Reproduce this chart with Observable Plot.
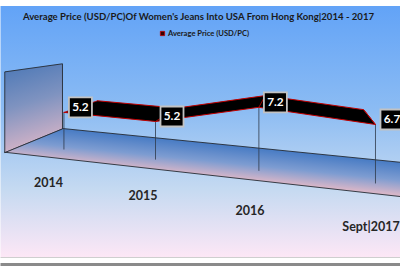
<!DOCTYPE html>
<html><head><meta charset="utf-8">
<script src="https://cdn.jsdelivr.net/npm/d3@7"></script>
<script src="https://cdn.jsdelivr.net/npm/@observablehq/plot@0.6"></script>
<style>html,body{margin:0;padding:0;background:#fff} svg{display:block}</style>
</head><body><div id="chart"></div>
<script>
// ---- data ----
const categories = ["2014", "2015", "2016", "Sept|2017"];
const values = [5.2, 5.2, 7.2, 6.7];
const valueLabels = ["5.2", "5.2", "7.2", "6.7"];
const seriesName = "Average Price (USD/PC)";
const chartTitle = "Average Price (USD/PC)Of Women's Jeans Into USA From Hong Kong|2014 - 2017";
const axisMin = 2, axisMax = 8.6;

// ---- 3D projection (category index u, depth d 0=back..1=front, value v) ----
const W = 400, H = 266;
const VP = [300, 30];
const persp = 1.113;
function proj(u, d, v) {
  const xb = 98 + 79 * (Math.pow(persp, u) - 1) / (persp - 1);
  const yb = 128 + 0.1 * (xb - 62);
  const lam = 1 + 0.248 * d * (1 + 0.045 * u);
  const h = (v - axisMin) * 9.9 * Math.pow(1.02, u);
  return {x: VP[0] + (xb - VP[0]) * lam, y: VP[1] + (yb - VP[1] - h) * lam};
}
const dFront = 0.69, dBack = 0.02;
const uMin = -0.494, uMax = 3.8;

const points = categories.map((c, i) => ({c, i, v: values[i], label: valueLabels[i]}));
const front = points.map(p => proj(p.i, dFront, p.v));
const back = points.map(p => proj(p.i, dBack, p.v));
const ribbon = [...front, ...back.slice().reverse()];
const floorPoly = [proj(uMin, 0, axisMin), proj(uMax, 0, axisMin), proj(uMax, 1, axisMin), proj(uMin, 1, axisMin)];
const wallPoly = [proj(uMin, 0, axisMin), proj(uMin, 0, axisMax), proj(uMin, 1, axisMax), proj(uMin, 1, axisMin)];
const drops = points.map(p => ({a: proj(p.i, dFront, axisMin), b: proj(p.i, dFront, p.v)}));
const creases = points.map((p, k) => ({a: front[k], b: back[k]}));
const labelPts = points.map((p, k) => ({...front[k], label: p.label}));
const catPts = points.map(p => {
  const q = proj(p.i * 0.975, 1, axisMin);
  return {x: q.x, y: q.y + 26 * Math.pow(1.085, p.i), c: p.c};
});

const boxSymbol = {draw(ctx) { ctx.moveTo(-11.5, -10); ctx.lineTo(11.5, -10); ctx.lineTo(11.5, 10); ctx.lineTo(-11.5, 10); ctx.closePath(); }};
const font = "Lato, 'Open Sans', sans-serif";

const svg = Plot.plot({
  width: W, height: H, margin: 0,
  x: {domain: [0, W], range: [0, W], axis: null},
  y: {domain: [0, H], range: [0, H], axis: null},
  style: {fontFamily: font, overflow: "hidden", background: "#fff"},
  marks: [
    Plot.frame({fill: "url(#bgGrad)", stroke: "none"}),
    Plot.line(floorPoly, {x: "x", y: "y", curve: "linear-closed", fill: "url(#floorGrad)", stroke: "#262b33", strokeWidth: 0.9}),
    Plot.line(wallPoly, {x: "x", y: "y", curve: "linear-closed", fill: "url(#wallGrad)", stroke: "#262b33", strokeWidth: 0.9}),
    Plot.link(drops, {x1: d => d.a.x, y1: d => d.a.y, x2: d => d.b.x, y2: d => d.b.y, stroke: "#2f3a4a", strokeWidth: 0.8}),
    Plot.line(ribbon, {x: "x", y: "y", fill: "#000", stroke: "#c00000", strokeWidth: 1}),
    Plot.link(creases, {x1: d => d.a.x, y1: d => d.a.y, x2: d => d.b.x, y2: d => d.b.y, stroke: "#c00000", strokeWidth: 0.8}),
    Plot.dot(labelPts, {x: "x", y: "y", dx: 16.5, dy: -5, symbol: boxSymbol, fill: "#000", stroke: "#c2c2c2", strokeWidth: 1.8}),
    Plot.text(labelPts, {x: "x", y: "y", dx: 16.5, dy: -5, text: "label", fill: "#fff", fontSize: 11.8, fontWeight: "bold", lineAnchor: "middle"}),
    Plot.text(catPts, {x: "x", y: "y", text: "c", fill: "#262626", fontSize: 12.5, fontWeight: "bold", lineAnchor: "middle"}),
    Plot.text([chartTitle], {frameAnchor: "top", dx: -2, dy: 16, text: d => d, fill: "#1a1a1a", fontSize: 9.6, fontWeight: "bold", lineAnchor: "middle"}),
    Plot.dot([seriesName], {frameAnchor: "top", dx: -38, dy: 33, symbol: "square", r: 2.4, fill: "#3a0000", stroke: "#c00000", strokeWidth: 0.8}),
    Plot.text([seriesName], {frameAnchor: "top", dx: 8, dy: 33, text: d => d, fill: "#1a1a1a", fontSize: 7.6, fontWeight: "bold", lineAnchor: "middle"})
  ]
});

// gradients
const P0 = proj(1.5, 0, axisMin), P1 = proj(1.5, 1, axisMin);
const nl = Math.hypot(-0.1, 1), nx = -0.1 / nl, ny = 1 / nl;
const t = (P1.x - P0.x) * nx + (P1.y - P0.y) * ny;
const off = px => (px / H).toFixed(4);
const defs = document.createElementNS("http://www.w3.org/2000/svg", "defs");
defs.innerHTML = `
<linearGradient id="bgGrad" gradientUnits="userSpaceOnUse" x1="0" y1="0" x2="0" y2="${H}">
  <stop offset="0" stop-color="#fff"/>
  <stop offset="${off(1)}" stop-color="#fff"/><stop offset="${off(1)}" stop-color="#d6d6d6"/>
  <stop offset="${off(2)}" stop-color="#d6d6d6"/><stop offset="${off(2)}" stop-color="#fff"/>
  <stop offset="${off(5)}" stop-color="#fff"/><stop offset="${off(5)}" stop-color="#62a3f7"/>
  <stop offset="${off(110)}" stop-color="#8cbcf3"/>
  <stop offset="${off(190)}" stop-color="#c6daf1"/>
  <stop offset="${off(256.5)}" stop-color="#fde7f6"/><stop offset="${off(256.5)}" stop-color="#cfcfcf"/>
  <stop offset="${off(258)}" stop-color="#cfcfcf"/><stop offset="${off(258)}" stop-color="#fff"/>
  <stop offset="${off(262.5)}" stop-color="#fff"/><stop offset="${off(262.5)}" stop-color="#8a8a8a"/>
  <stop offset="1" stop-color="#8a8a8a"/>
</linearGradient>
<linearGradient id="floorGrad" gradientUnits="userSpaceOnUse" x1="${P0.x}" y1="${P0.y}" x2="${P0.x + t * nx}" y2="${P0.y + t * ny}">
  <stop offset="0" stop-color="#477bc4"/>
  <stop offset="0.55" stop-color="#7d9cd1"/>
  <stop offset="1" stop-color="#d5b5c8"/>
</linearGradient>
<linearGradient id="wallGrad" x1="0" y1="0" x2="0.2" y2="1">
  <stop offset="0" stop-color="#4a77b6"/>
  <stop offset="0.5" stop-color="#7f93c0"/>
  <stop offset="1" stop-color="#d3b3c7"/>
</linearGradient>`;
svg.insertBefore(defs, svg.firstChild);
document.getElementById("chart").appendChild(svg);
</script>
</body></html>
